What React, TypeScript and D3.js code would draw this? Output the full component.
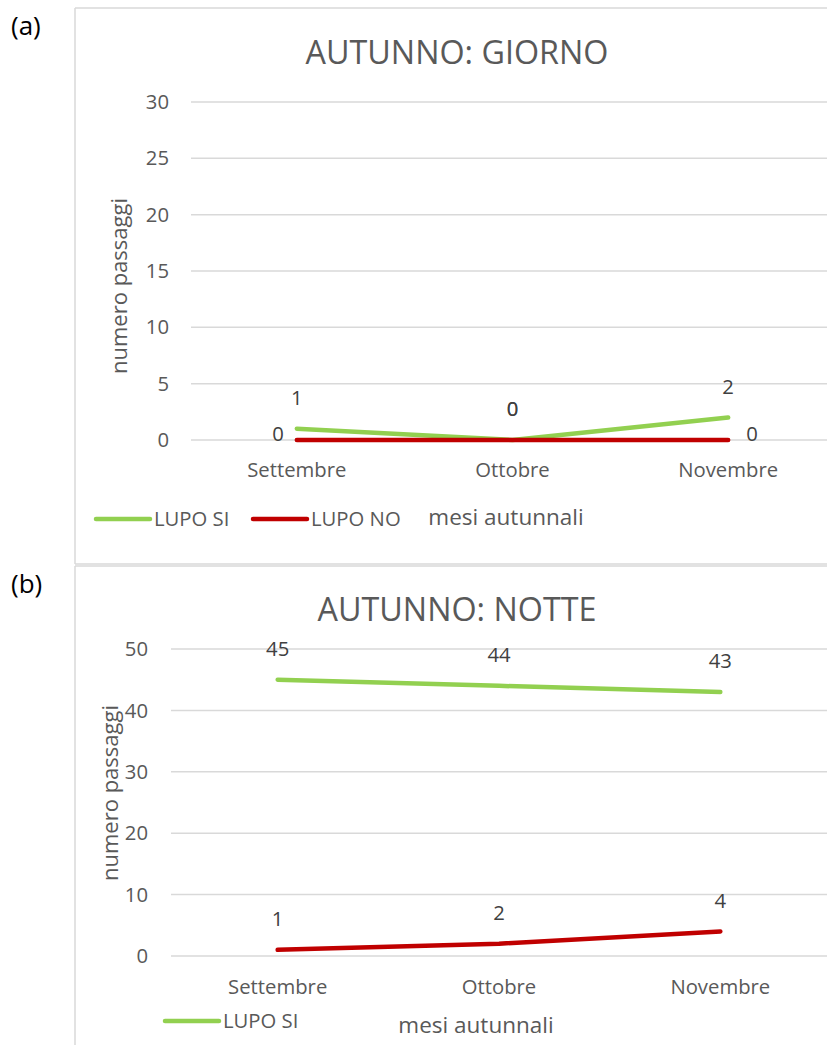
import React from "react";
import * as d3 from "d3";

const months = ["Settembre", "Ottobre", "Novembre"];
const giornoLupoSi = [1, 0, 2];
const giornoLupoNo = [0, 0, 0];
const notteLupoSi = [45, 44, 43];
const notteLupoNo = [1, 2, 4];
const giornoTicks = [0, 5, 10, 15, 20, 25, 30];
const notteTicks = [0, 10, 20, 30, 40, 50];
// label placement per point for the "LUPO NO" series of the first chart
const giornoNoLabelPos = ["left", "above", "right"];

const GREEN = "#92D050";
const RED = "#C00000";
const TXT = "#595959";
const GRID = "#D9D9D9";
const FONT = "'Open Sans', 'Noto Sans', sans-serif";
const FS = 20.3;

type PanelProps = {
  top: number;
  bottom: number;
  letter: string;
  title: string;
  titleY: number;
  yMax: number;
  ticks: number[];
  y0: number;
  yTop: number;
  x0: number;
  x1: number;
  gridStart: number;
  tickLabelX: number;
  yTitleX: number;
  yTitleY: number;
  catY: number;
  legendY: number;
  legendX: number;
  axisTitleX: number;
  axisTitleY: number;
  si: number[];
  no: number[];
  noPos: string[];
  showNoLegend: boolean;
};

function Panel(p: PanelProps) {
  const x = d3.scaleBand<string>().domain(months).range([p.x0, p.x1]);
  const y = d3.scaleLinear().domain([0, p.yMax]).range([p.y0, p.yTop]);
  const cx = (m: string) => (x(m) as number) + x.bandwidth() / 2;
  const line = d3
    .line<number>()
    .x((_, i) => cx(months[i]))
    .y((d) => y(d));
  const label = (v: number, i: number, pos: string) => {
    const px = cx(months[i]);
    const py = y(v);
    if (pos === "left") return { x: px - 13, y: py - 6, anchor: "end" };
    if (pos === "right") return { x: px + 18, y: py - 6, anchor: "start" };
    return { x: px, y: py - 31, anchor: "middle" };
  };
  return (
    <g>
      <text x={11} y={p.top + 27} fontSize={26} fill="#000" fontFamily={FONT}>
        {p.letter}
      </text>
      <line x1={75} x2={830} y1={p.top} y2={p.top} stroke={GRID} strokeWidth={1.5} />
      <line x1={75} x2={75} y1={p.top} y2={p.bottom} stroke={GRID} strokeWidth={1.5} />
      {p.bottom < 1040 && (
        <line x1={75} x2={830} y1={p.bottom} y2={p.bottom} stroke={GRID} strokeWidth={1.5} />
      )}
      <text x={457} y={p.titleY} textAnchor="middle" fontSize={32.3} fill={TXT} fontFamily={FONT}>
        {p.title}
      </text>
      {p.ticks.map((t) => (
        <g key={t}>
          <line x1={p.gridStart} x2={840} y1={y(t)} y2={y(t)} stroke={GRID} strokeWidth={1.5} />
          <text x={p.tickLabelX} y={y(t)} dy="0.35em" textAnchor="end" fontSize={FS} fill={TXT} fontFamily={FONT}>
            {t}
          </text>
        </g>
      ))}
      <text
        transform={`translate(${p.yTitleX},${p.yTitleY}) rotate(-90)`}
        textAnchor="middle"
        dy="0.35em"
        fontSize={22}
        fill={TXT}
        fontFamily={FONT}
      >
        numero passaggi
      </text>
      {months.map((m) => (
        <text key={m} x={cx(m)} y={p.catY} dy="0.35em" textAnchor="middle" fontSize={FS} fill={TXT} fontFamily={FONT}>
          {m}
        </text>
      ))}
      <path d={line(p.si) || ""} fill="none" stroke={GREEN} strokeWidth={4.5} strokeLinecap="round" strokeLinejoin="round" />
      <path d={line(p.no) || ""} fill="none" stroke={RED} strokeWidth={4.5} strokeLinecap="round" strokeLinejoin="round" />
      {p.si.map((v, i) => {
        const l = label(v, i, "above");
        return (
          <text key={"s" + i} x={l.x} y={l.y} dy="0.35em" textAnchor={l.anchor} fontSize={FS} fill="#404040" fontFamily={FONT}>
            {v}
          </text>
        );
      })}
      {p.no.map((v, i) => {
        const l = label(v, i, p.noPos[i]);
        return (
          <text key={"n" + i} x={l.x} y={l.y} dy="0.35em" textAnchor={l.anchor} fontSize={FS} fill="#404040" fontFamily={FONT}>
            {v}
          </text>
        );
      })}
      <line x1={p.legendX} x2={p.legendX + 54} y1={p.legendY} y2={p.legendY} stroke={GREEN} strokeWidth={4.5} strokeLinecap="round" />
      <text x={p.legendX + 58} y={p.legendY} dy="0.35em" fontSize={FS} fill={TXT} fontFamily={FONT}>
        LUPO SI
      </text>
      {p.showNoLegend && (
        <g>
          <line x1={p.legendX + 157} x2={p.legendX + 211} y1={p.legendY} y2={p.legendY} stroke={RED} strokeWidth={4.5} strokeLinecap="round" />
          <text x={p.legendX + 215} y={p.legendY} dy="0.35em" fontSize={FS} fill={TXT} fontFamily={FONT}>
            LUPO NO
          </text>
        </g>
      )}
      <text x={p.axisTitleX} y={p.axisTitleY} dy="0.35em" textAnchor="middle" fontSize={22.5} fill={TXT} fontFamily={FONT}>
        mesi autunnali
      </text>
    </g>
  );
}

export default function App() {
  return (
    <svg
      width={827}
      height={1045}
      style={{ position: "absolute", left: 0, top: 0, background: "#fff" }}
    >
      <rect width={827} height={1045} fill="#fff" />
      <Panel
        top={8}
        bottom={564}
        letter="(a)"
        title="AUTUNNO: GIORNO"
        titleY={64}
        yMax={30}
        ticks={giornoTicks}
        y0={440}
        yTop={102}
        x0={189}
        x1={836}
        gridStart={191}
        tickLabelX={169}
        yTitleX={119}
        yTitleY={286}
        catY={470}
        legendY={519}
        legendX={96}
        axisTitleX={506}
        axisTitleY={517}
        si={giornoLupoSi}
        no={giornoLupoNo}
        noPos={giornoNoLabelPos}
        showNoLegend={true}
      />
      <Panel
        top={566}
        bottom={1050}
        letter="(b)"
        title="AUTUNNO: NOTTE"
        titleY={621}
        yMax={50}
        ticks={notteTicks}
        y0={956}
        yTop={649}
        x0={167}
        x1={831}
        gridStart={171}
        tickLabelX={148}
        yTitleX={110}
        yTitleY={793}
        catY={987}
        legendY={1021}
        legendX={165}
        axisTitleX={476}
        axisTitleY={1025}
        si={notteLupoSi}
        no={notteLupoNo}
        noPos={["above", "above", "above"]}
        showNoLegend={false}
      />
    </svg>
  );
}
